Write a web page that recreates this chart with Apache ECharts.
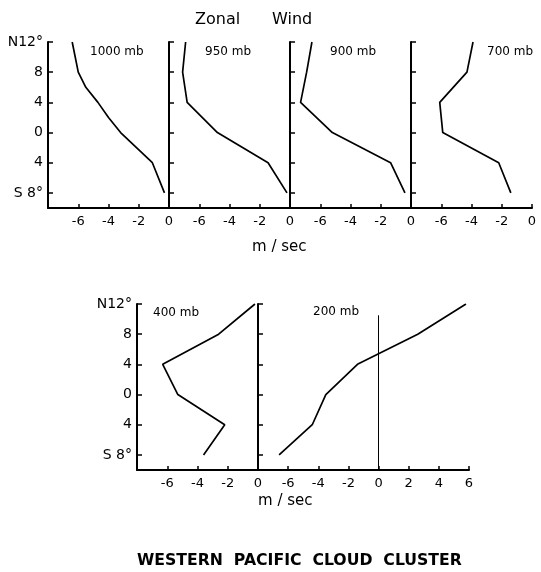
<!DOCTYPE html>
<html>
<head>
<meta charset="utf-8">
<script src="https://cdn.jsdelivr.net/npm/echarts@6/dist/echarts.min.js"></script>
<style>
  html, body { margin: 0; padding: 0; background: #fff; }
  #chart { width: 541px; height: 572px; }
</style>
</head>
<body>
<div id="chart"></div>
<script>
// latitudes (N positive, S negative)
const lat = [12, 8, 4, 0, -4, -8];
const lat1000 = [12, 8, 6, 4, 2, 0, -4, -8];
const latTicks = [12, 8, 4, 0, -4, -8];
// zonal wind, m/sec
const u1000 = [-6.4, -6.0, -5.5, -4.7, -4.0, -3.2, -1.1, -0.3];
const u950 = [-6.9, -7.1, -6.8, -4.8, -1.45, -0.2];
const u900 = [-6.55, -6.9, -7.3, -5.2, -1.35, -0.4];
const u700 = [-3.9, -4.3, -6.1, -5.9, -2.2, -1.4];
const u400 = [-0.2, -2.6, -6.3, -5.3, -2.2, -3.6];
const u200 = [5.8, 2.6, -1.4, -3.5, -4.4, -6.6];
const panelNames = ['1000 mb', '950 mb', '900 mb', '700 mb', '400 mb', '200 mb'];

const font = 'DejaVu Sans';
let chart = echarts.init(document.getElementById('chart'));

function pairs(u, l) {
  return u.map((v, i) => [v, l[i]]);
}

// panel boxes
const panels = [
  { left: 48, top: 42, width: 121, height: 166, xMax: 0, u: u1000, lat: lat1000 },
  { left: 169, top: 42, width: 121, height: 166, xMax: 0, u: u950, lat: lat },
  { left: 290, top: 42, width: 121, height: 166, xMax: 0, u: u900, lat: lat },
  { left: 411, top: 42, width: 121, height: 166, xMax: 0, u: u700, lat: lat },
  { left: 137, top: 304, width: 121, height: 166, xMax: 0, u: u400, lat: lat },
  { left: 258, top: 304, width: 211, height: 166, xMax: 6, u: u200, lat: lat },
];

function latLabel(v) {
  if (v === 12) return 'N12°';
  if (v === -8) return 'S 8°';
  return String(Math.abs(v));
}

let grid = [], xAxis = [], yAxis = [], series = [];
panels.forEach((p, i) => {
  grid.push({ left: p.left, top: p.top, width: p.width, height: p.height });
  xAxis.push({
    type: 'value', gridIndex: i, min: -8, max: p.xMax, interval: 2,
    axisLine: { show: true, onZero: false, lineStyle: { color: '#000', width: 2 } },
    axisTick: { show: true, inside: true, length: 4, lineStyle: { color: '#000', width: 1.5 } },
    axisLabel: {
      color: '#000', fontFamily: font, fontSize: 13, margin: 7,
      formatter: v => (v === -8 ? '' : String(v))
    },
    splitLine: { show: false }
  });
  const showLab = i === 0 || i === 4;
  yAxis.push({
    type: 'value', gridIndex: i, min: -10, max: 12,
    axisLine: { show: true, onZero: false, lineStyle: { color: '#000', width: 2 } },
    axisTick: { show: true, inside: true, length: 5, customValues: latTicks, lineStyle: { color: '#000', width: 1.5 } },
    axisLabel: {
      show: showLab, customValues: latTicks, color: '#000', fontFamily: font,
      fontSize: 14, margin: 5, formatter: latLabel
    },
    splitLine: { show: false }
  });
  const s = {
    type: 'line', xAxisIndex: i, yAxisIndex: i,
    data: pairs(p.u, p.lat), symbol: 'none', silent: true,
    lineStyle: { color: '#000', width: 1.7 }
  };
  if (i === 5) {
    // zero line at 200 mb
    s.markLine = {
      symbol: 'none', silent: true, label: { show: false },
      lineStyle: { color: '#000', width: 1, type: 'solid' },
      data: [[{ coord: [0, -10] }, { coord: [0, 10.5] }]]
    };
  }
  series.push(s);
});

const labelPos = [[90, 52], [205, 52], [330, 52], [487, 52], [153, 313], [313, 312]];
let graphic = [
  { type: 'text', left: 195, top: 12, style: { text: 'Zonal', fontFamily: font, fontSize: 16, fill: '#000' } },
  { type: 'text', left: 272, top: 12, style: { text: 'Wind', fontFamily: font, fontSize: 16, fill: '#000' } },
  { type: 'text', left: 252, top: 240, style: { text: 'm / sec', fontFamily: font, fontSize: 15, fill: '#000' } },
  { type: 'text', left: 258, top: 494, style: { text: 'm / sec', fontFamily: font, fontSize: 15, fill: '#000' } },
  { type: 'text', left: 137, top: 553, style: { text: 'WESTERN  PACIFIC  CLOUD  CLUSTER', fontFamily: font, fontSize: 15.7, fontWeight: 'bold', fill: '#000' } },
];
panelNames.forEach((n, i) => {
  graphic.push({
    type: 'text', x: labelPos[i][0], y: labelPos[i][1],
    style: { text: n, fontFamily: font, fontSize: 12, fill: '#000', textVerticalAlign: 'middle' }
  });
});

chart.setOption({
  animation: false,
  backgroundColor: '#fff',
  grid: grid,
  xAxis: xAxis,
  yAxis: yAxis,
  series: series,
  graphic: graphic
});
</script>
</body>
</html>
